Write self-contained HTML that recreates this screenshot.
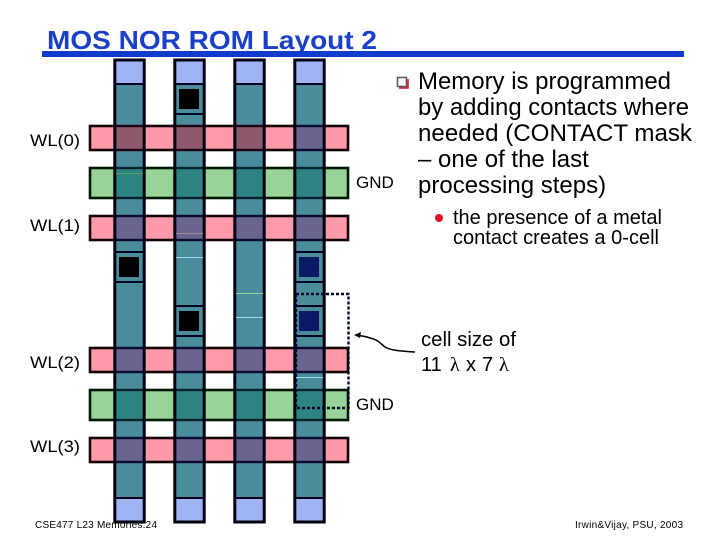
<!DOCTYPE html>
<html><head><meta charset="utf-8"><style>
html,body{margin:0;padding:0;background:#fff}
svg{display:block}
text{font-family:"Liberation Sans",Arial,sans-serif;fill:#000}
</style></head><body>
<svg width="720" height="540" viewBox="0 0 720 540" xmlns="http://www.w3.org/2000/svg">
<rect width="720" height="540" fill="#fff"/>
<text x="47" y="49" font-size="26" font-weight="bold" style="fill:#1a3fc8" textLength="330" lengthAdjust="spacingAndGlyphs">MOS NOR ROM Layout 2</text>
<rect x="42" y="51" width="642" height="6" fill="#0f3ccc"/>

<!-- word lines and GND -->
<g stroke-width="2.600">
<g fill="#ff9aaa" stroke="#150005">
<rect x="90" y="126" width="258" height="24"/>
<rect x="90" y="216" width="258" height="24"/>
<rect x="90" y="348" width="258" height="24"/>
<rect x="90" y="438" width="258" height="24"/>
</g>
<g fill="#98d498" stroke="#001500">
<rect x="90" y="168" width="258" height="30"/>
<rect x="90" y="390" width="258" height="30"/>
</g>
</g>
<!-- column fills -->
<g fill="#4a8c9c">
<rect x="115" y="60" width="29" height="462"/>
<rect x="175" y="60" width="29" height="462"/>
<rect x="235" y="60" width="29" height="462"/>
<rect x="295" y="60" width="29" height="462"/>
</g>
<g fill="#a0b4f4">
<rect x="115" y="60" width="29" height="24"/><rect x="175" y="60" width="29" height="24"/><rect x="235" y="60" width="29" height="24"/><rect x="295" y="60" width="29" height="24"/>
<rect x="115" y="498" width="29" height="24"/><rect x="175" y="498" width="29" height="24"/><rect x="235" y="498" width="29" height="24"/><rect x="295" y="498" width="29" height="24"/>
</g>
<!-- overlaps -->
<g stroke-width="2.400">
<g fill="#8c5a6c" stroke="#200010">
<rect x="115" y="126" width="29" height="24"/><rect x="175" y="126" width="29" height="24"/><rect x="235" y="126" width="29" height="24"/>
</g>
<g fill="#6a6490" stroke="#0a0a30">
<rect x="295" y="126" width="29" height="24"/>
<rect x="115" y="216" width="29" height="24"/><rect x="175" y="216" width="29" height="24"/><rect x="235" y="216" width="29" height="24"/><rect x="295" y="216" width="29" height="24"/>
<rect x="115" y="348" width="29" height="24"/><rect x="175" y="348" width="29" height="24"/><rect x="235" y="348" width="29" height="24"/><rect x="295" y="348" width="29" height="24"/>
<rect x="115" y="438" width="29" height="24"/><rect x="175" y="438" width="29" height="24"/><rect x="235" y="438" width="29" height="24"/><rect x="295" y="438" width="29" height="24"/>
</g>
<g fill="#2e8480" stroke="#00202a">
<rect x="115" y="168" width="29" height="30"/><rect x="175" y="168" width="29" height="30"/><rect x="235" y="168" width="29" height="30"/><rect x="295" y="168" width="29" height="30"/>
<rect x="115" y="390" width="29" height="30"/><rect x="175" y="390" width="29" height="30"/><rect x="235" y="390" width="29" height="30"/><rect x="295" y="390" width="29" height="30"/>
</g>
</g>
<!-- separator lines and column outlines -->
<g fill="none" stroke="#00001e" stroke-width="2">
<path d="M115 84H144M175 84H204M235 84H264M295 84H324M115 498H144M175 498H204M235 498H264M295 498H324"/>
<rect x="175" y="84" width="29" height="30"/>
<rect x="115" y="252" width="29" height="30"/>
<rect x="295" y="252" width="29" height="30"/>
<rect x="175" y="306" width="29" height="30"/>
<rect x="295" y="306" width="29" height="30"/>
</g>
<g fill="none" stroke="#000010" stroke-width="3">
<rect x="114.800" y="60" width="29.400" height="462"/>
<rect x="174.800" y="60" width="29.400" height="462"/>
<rect x="234.800" y="60" width="29.400" height="462"/>
<rect x="294.800" y="60" width="29.400" height="462"/>
</g>
<rect x="179" y="89" width="20" height="20" fill="#000"/>
<rect x="119" y="257" width="20" height="20" fill="#000"/>
<rect x="179" y="311" width="20" height="20" fill="#000"/>
<rect x="299" y="257" width="20" height="20" fill="#0a1a64"/>
<rect x="299" y="311" width="20" height="20" fill="#0a1a64"/>
<!-- small artifact lines -->
<g stroke-width="1" fill="none">
<path d="M116 173.500H143" stroke="#5c9c6c"/>
<path d="M176 233.500H203" stroke="#a08c8c"/>
<path d="M176 257.500H203" stroke="#a8d8f0"/>
<path d="M236 293.500H263" stroke="#98d498"/>
<path d="M236 317.500H263" stroke="#a8d8f0"/>
<path d="M296 377.500H323" stroke="#a8d8f0"/>
</g>
<!-- dotted cell -->
<rect x="296" y="294" width="52.500" height="114" fill="none" stroke="#000a28" stroke-width="2.400" stroke-dasharray="3 2"/>
<!-- arrow -->
<path d="M415 352C402 351 392 351 385 347C379 342 376 339 370 338C365 336 362 336 358 335.500" fill="none" stroke="#000" stroke-width="1.500"/>
<path d="M354 335L361 332L360 338Z" fill="#000"/>

<!-- labels -->
<g font-size="17">
<text x="30" y="146" textLength="50" lengthAdjust="spacingAndGlyphs">WL(0)</text>
<text x="30" y="231" textLength="50" lengthAdjust="spacingAndGlyphs">WL(1)</text>
<text x="30" y="368" textLength="50" lengthAdjust="spacingAndGlyphs">WL(2)</text>
<text x="30" y="452" textLength="50" lengthAdjust="spacingAndGlyphs">WL(3)</text>
<text x="356" y="188">GND</text>
<text x="356" y="410">GND</text>
</g>
<!-- bullet -->
<rect x="397.500" y="77.500" width="9" height="9" fill="#fff" stroke="#555" stroke-width="1.500"/>
<path d="M399 88H408V79" fill="none" stroke="#c8102e" stroke-width="1.500"/>
<g font-size="24">
<text x="418" y="89" textLength="253" lengthAdjust="spacingAndGlyphs">Memory is programmed</text>
<text x="418" y="115" textLength="271" lengthAdjust="spacingAndGlyphs">by adding contacts where</text>
<text x="418" y="141" textLength="274" lengthAdjust="spacingAndGlyphs">needed (CONTACT mask</text>
<text x="418" y="167">– one of the last</text>
<text x="418" y="193">processing steps)</text>
</g>
<circle cx="439" cy="218" r="4" fill="#e0102e"/>
<g font-size="20">
<text x="453" y="224" textLength="209" lengthAdjust="spacingAndGlyphs">the presence of a metal</text>
<text x="453" y="244" textLength="206" lengthAdjust="spacingAndGlyphs">contact creates a 0-cell</text>
<text x="421" y="346" textLength="95" lengthAdjust="spacingAndGlyphs">cell size of</text>
<text x="421" y="371">11</text>
<text x="450" y="371" style="font-family:'Liberation Serif',serif">λ</text>
<text x="466" y="371">x</text>
<text x="482" y="371">7</text>
<text x="499" y="371" style="font-family:'Liberation Serif',serif">λ</text>
</g>
<g font-size="10">
<text x="35" y="528" textLength="122" lengthAdjust="spacing">CSE477  L23 Memories.24</text>
<text x="575" y="528" textLength="108" lengthAdjust="spacing">Irwin&amp;Vijay, PSU, 2003</text>
</g>
</svg>
</body></html>
